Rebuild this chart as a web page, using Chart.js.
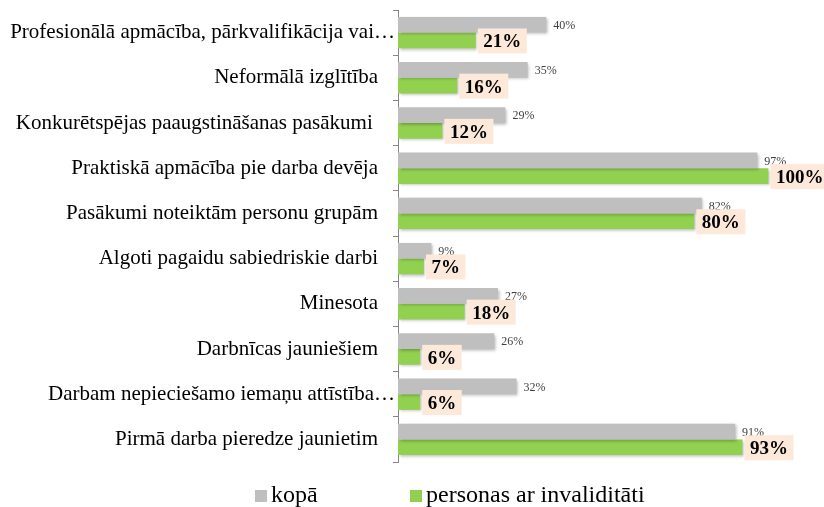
<!DOCTYPE html>
<html>
<head>
<meta charset="utf-8">
<script src="https://cdn.jsdelivr.net/npm/chart.js@4.4.1/dist/chart.umd.min.js"></script>
<style>
  html, body { margin: 0; padding: 0; background: #fff; }
  #wrap { width: 824px; height: 507px; position: relative; }
</style>
</head>
<body>
<div id="wrap"><canvas id="c" width="824" height="507"></canvas></div>
<script>
const categories = [
  "Profesionālā apmācība, pārkvalifikācija vai…",
  "Neformālā izglītība",
  "Konkurētspējas paaugstināšanas pasākumi ",
  "Praktiskā apmācība pie darba devēja",
  "Pasākumi noteiktām personu grupām",
  "Algoti pagaidu sabiedriskie darbi",
  "Minesota",
  "Darbnīcas jauniešiem",
  "Darbam nepieciešamo iemaņu attīstība…",
  "Pirmā darba pieredze jaunietim"
];
const seriesNames = ["kopā", "personas ar invaliditāti"];
const kopa = [40, 35, 29, 97, 82, 9, 27, 26, 32, 91];
const invaliditate = [21, 16, 12, 100, 80, 7, 18, 6, 6, 93];

const GRAY = "#BFBFBF";
const GREEN = "#92D050";
const PEACH = "#FCE9D9";
const SERIF = "'Liberation Serif', 'Times New Roman', serif";

const shadowPlugin = {
  id: 'shadow',
  beforeDatasetsDraw(chart) {
    const ctx = chart.ctx;
    ctx.save();
    ctx.shadowColor = 'rgba(0,0,0,0.28)';
    ctx.shadowBlur = 3;
    ctx.shadowOffsetX = 1.5;
    ctx.shadowOffsetY = 1.5;
  },
  afterDatasetsDraw(chart) {
    chart.ctx.restore();
  }
};

const categoryLabelPlugin = {
  id: 'categoryLabels',
  afterDraw(chart) {
    const ctx = chart.ctx;
    const ys = chart.scales.y;
    ctx.save();
    ctx.font = "21px " + SERIF;
    ctx.fillStyle = "#000";
    ctx.textBaseline = "middle";
    ctx.textAlign = "right";
    categories.forEach((lab, i) => {
      const y = ys.getPixelForTick(i);
      // truncated (ellipsis) labels fill the whole label area in the original
      const right = lab.endsWith("…") ? ys.right - 3 : ys.right - 20;
      ctx.fillText(lab, right, y);
    });
    ctx.restore();
  }
};

const labelPlugin = {
  id: 'valueLabels',
  afterDatasetsDraw(chart) {
    const ctx = chart.ctx;
    ctx.save();
    const m0 = chart.getDatasetMeta(0);
    ctx.font = "12px " + SERIF;
    ctx.fillStyle = "#404040";
    ctx.textAlign = "left";
    ctx.textBaseline = "middle";
    m0.data.forEach((bar, i) => {
      ctx.fillText(kopa[i] + "%", bar.x + 7, bar.y + 1);
    });
    const m1 = chart.getDatasetMeta(1);
    ctx.font = "bold 19px " + SERIF;
    m1.data.forEach((bar, i) => {
      const txt = invaliditate[i] + "%";
      const w = ctx.measureText(txt).width;
      const bx = bar.x + 2;
      const bw = w + 11;
      const bh = 25;
      const by = bar.y - bh / 2 + 0.5;
      ctx.fillStyle = PEACH;
      ctx.fillRect(bx, by, bw, bh);
      ctx.fillStyle = "#000";
      ctx.fillText(txt, bx + 5.5, bar.y + 2);
    });
    ctx.restore();
  }
};

const legendPlugin = {
  id: 'customLegend',
  afterDraw(chart) {
    const ctx = chart.ctx;
    ctx.save();
    ctx.font = "24px " + SERIF;
    ctx.textBaseline = "alphabetic";
    ctx.textAlign = "left";
    const items = [
      { x: 255, color: GRAY, label: seriesNames[0] },
      { x: 410, color: GREEN, label: seriesNames[1] }
    ];
    items.forEach(it => {
      ctx.fillStyle = it.color;
      ctx.fillRect(it.x, 490, 12, 12);
      ctx.fillStyle = "#000";
      ctx.fillText(it.label, it.x + 16, 502);
    });
    ctx.restore();
  }
};

new Chart(document.getElementById('c'), {
  type: 'bar',
  data: {
    labels: categories,
    datasets: [
      { label: seriesNames[0], data: kopa, backgroundColor: GRAY, borderWidth: 0 },
      { label: seriesNames[1], data: invaliditate, backgroundColor: GREEN, borderWidth: 0 }
    ]
  },
  options: {
    indexAxis: 'y',
    responsive: false,
    animation: false,
    devicePixelRatio: 1,
    categoryPercentage: 0.695,
    barPercentage: 1.0,
    layout: { padding: { top: 10, bottom: 45, left: 0, right: 0 } },
    plugins: {
      legend: { display: false },
      tooltip: { enabled: false }
    },
    scales: {
      x: {
        display: false,
        min: 0,
        max: 115
      },
      y: {
        afterFit(scale) { scale.width = 398; },
        grid: {
          display: true,
          drawOnChartArea: false,
          drawTicks: true,
          tickLength: 5,
          offset: true,
          color: "#868686"
        },
        border: { display: true, color: "#868686", width: 1 },
        ticks: {
          display: false,
          autoSkip: false
        }
      }
    }
  },
  plugins: [shadowPlugin, labelPlugin, categoryLabelPlugin, legendPlugin]
});
</script>
</body>
</html>
